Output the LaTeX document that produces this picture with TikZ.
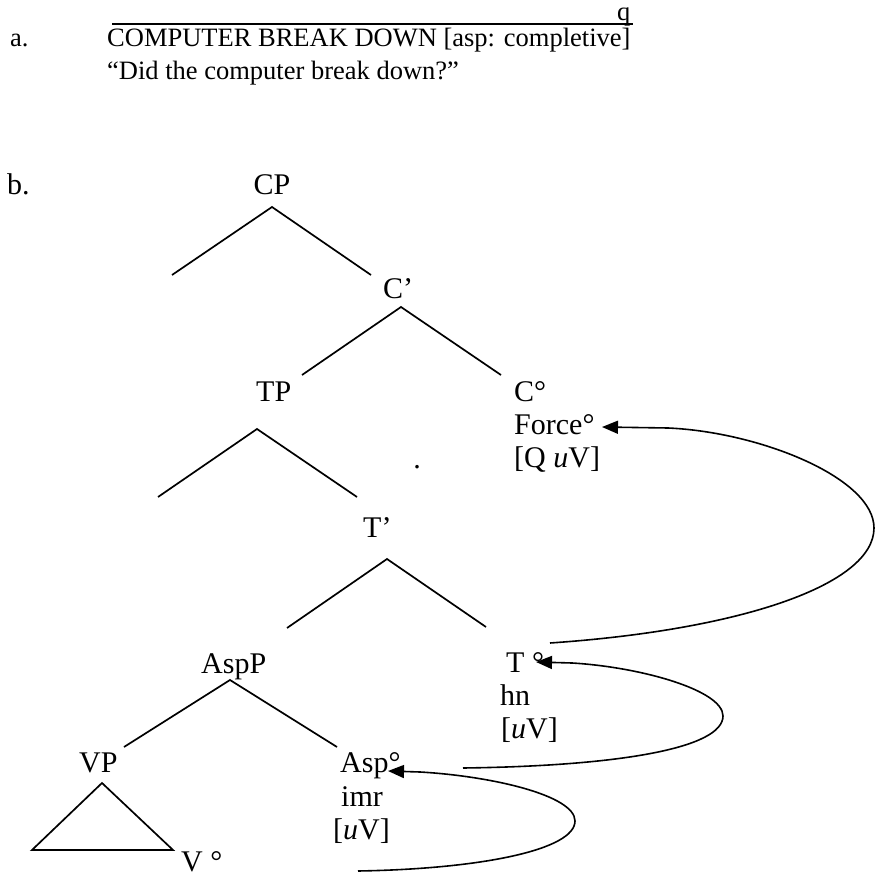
\documentclass[tikz,border=0pt]{standalone}
\usepackage{fontspec}
\setmainfont{Liberation Serif}
\usetikzlibrary{arrows.meta}
\begin{document}
\begin{tikzpicture}[x=1pt,y=-1pt,
  lbl/.style={inner sep=0pt,anchor=base west,font=\fontsize{30}{36}\selectfont},
  toptext/.style={inner sep=0pt,anchor=base west,font=\fontsize{26.5}{32}\selectfont},
  branch/.style={line width=1.7pt},
  movement/.style={line width=1.6pt,-{Triangle[length=16pt,width=13pt]}}]
\useasboundingbox (0,0) rectangle (876,874);
% example a
\node[toptext] (qq) at (617,21) {q};
\coordinate (ul) at (112,24);
\coordinate (ur) at (633,24);
\draw[line width=1.5pt] (ul) -- (ur);
\node[toptext] (alab) at (10,47) {a.};
\node[toptext] (gloss) at (107,47) {COMPUTER BREAK DOWN [asp: completive]};
\node[toptext] (transl) at (107,80) {“Did the computer break down?”};
% tree b
\node[lbl] (blab) at (7,195) {b.};
\node[lbl,anchor=base] (CP) at (272,195) {CP};
\coordinate (cpA) at (272,207);
\coordinate (cpL) at (172,275);
\coordinate (cpR) at (371,275);
\draw[branch] (cpL) -- (cpA) -- (cpR);
\node[lbl] (Cbar) at (383,299) {C’};
\coordinate (cbA) at (401,307);
\coordinate (cbL) at (302,375);
\coordinate (cbR) at (501,375);
\draw[branch] (cbL) -- (cbA) -- (cbR);
\node[lbl] (TP) at (256,402) {TP};
\node[lbl] (Czero) at (514,402) {C°};
\node[lbl] (Force) at (514,435) {Force°};
\node[lbl] (QuV) at (514,468) {[Q \textit{u}V]};
\coordinate (tpA) at (257,429);
\coordinate (tpL) at (158,497);
\coordinate (tpR) at (357,497);
\draw[branch] (tpL) -- (tpA) -- (tpR);
\node[lbl,anchor=base] (dot) at (417,469) {.};
\node[lbl] (Tbar) at (363,537) {T’};
\coordinate (tbA) at (387,559);
\coordinate (tbL) at (287,628);
\coordinate (tbR) at (486,627);
\draw[branch] (tbL) -- (tbA) -- (tbR);
\node[lbl] (AspP) at (201,673) {AspP};
\node[lbl] (Tzero) at (506,672) {T °};
\node[lbl] (hn) at (500,705) {hn};
\node[lbl] (uVa) at (501,738) {[\textit{u}V]};
\coordinate (apA) at (230,680);
\coordinate (apL) at (124,747);
\coordinate (apR) at (337,747);
\draw[branch] (apL) -- (apA) -- (apR);
\node[lbl] (VP) at (79,772) {VP};
\node[lbl] (Aspzero) at (340,772) {Asp°};
\node[lbl] (imr) at (341,806) {imr};
\node[lbl] (uVb) at (333,839) {[\textit{u}V]};
\coordinate (vpA) at (102,783);
\coordinate (vpL) at (32,850);
\coordinate (vpR) at (173,850);
\draw[branch] (vpA) -- (vpR) -- (vpL) -- cycle;
\node[lbl] (Vzero) at (181,871) {V °};
% movement arrows
\coordinate (m1s) at (550,643);
\coordinate (m1r) at (874,528);
\coordinate (m1h) at (668,428);
\coordinate (m1t) at (602,427);
\draw[movement] (m1s) .. controls (740,630) and (874,585) .. (m1r)
  .. controls (874,478) and (760,432) .. (m1h) -- (m1t);
\coordinate (m2s) at (463,768);
\coordinate (m2r) at (723,716);
\coordinate (m2h) at (572,663);
\coordinate (m2t) at (536,662);
\draw[movement] (m2s) .. controls (620,766) and (723,748) .. (m2r)
  .. controls (723,690) and (640,667) .. (m2h) -- (m2t);
\coordinate (m3s) at (358,871);
\coordinate (m3r) at (575,821);
\coordinate (m3h) at (420,772);
\coordinate (m3t) at (388,771);
\draw[movement] (m3s) .. controls (480,869) and (575,850) .. (m3r)
  .. controls (575,795) and (490,776) .. (m3h) -- (m3t);
\end{tikzpicture}
\end{document}
